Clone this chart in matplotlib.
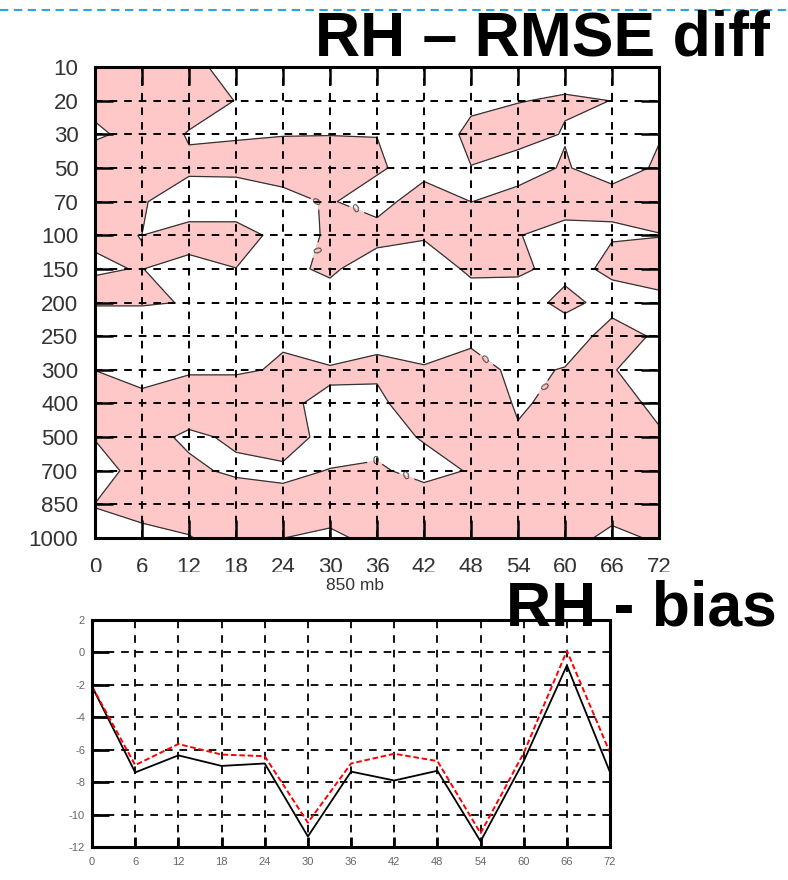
import numpy as np
import matplotlib
matplotlib.use("Agg")
import matplotlib.pyplot as plt
from matplotlib.lines import Line2D
from matplotlib.transforms import Bbox, TransformedBbox

plt.rcParams["font.family"] = ["Liberation Sans", "DejaVu Sans"]
plt.rcParams["lines.scale_dashes"] = False
plt.rcParams["axes.unicode_minus"] = False

# forecast lead time (h) and pressure levels (mb)
lead_hours = np.arange(0, 73, 6)
levels_mb = [10, 20, 30, 50, 70, 100, 150, 200, 250, 300, 400, 500, 700, 850, 1000]

# RH RMSE difference, one row per level (10 mb first), one column per lead time
rmse_diff = np.array([
    [ 1.0,  1.0,   1.0,  -1.4,  -1.0,  -1.0,  -1.0,  -1.0,  -1.0,  -1.0,  -0.25, -1.0,   -1.0],
    [ 1.0,  1.0,   1.0,  -0.05, -1.0,  -1.0,  -1.0,  -1.0,  -0.3,  -0.02,  0.06, -0.004, -1.0],
    [-0.6,  1.25, -0.15, -0.2,  -0.05, -0.03, -0.03, -1.0,   0.35,  0.25, -0.04, -1.0,   -0.05],
    [ 2.7,  1.0,   0.33,  0.9,   0.8,   0.8,   0.3,  -1.0,  -0.03, -0.3,   0.07, -0.42,   0.12],
    [ 1.0,  0.15, -1.0,  -2.4,  -0.6,   0.2,  -1.1,   1.5,  -0.01,  0.26,  1.2,   0.45,   1.0],
    [ 0.05,-0.005, 0.67,  1.6,  -1.2,   0.32,  1.2,   0.3,   1.0,   0.1,  -1.0,  -0.3,   -0.075],
    [-0.05, 0.02, -0.5,  -0.05, -0.8,   0.6,  -2.0,  -1.7,   0.5,   1.1,  -2.0,   1.2,    1.2],
    [ 0.2,  0.2,  -0.09, -1.0,  -1.0,  -1.6,  -1.0,  -1.0,  -1.35, -3.5,   2.0,  -2.5,   -0.7],
    [-1.8, -1.8,  -1.0,  -1.0,  -0.21, -1.0,  -0.6,  -1.7,  -1.4,  -1.0,  -4.2,   3.0,   -1.05],
    [-0.02,-1.0,  -0.3,  -0.3,   0.23,  0.15,  0.5,   0.3,   2.5,  -1.5,   0.4,   0.3,   -2.7],
    [ 1.0,  0.8,   1.7,   1.7,   0.136,-0.18, -0.7,   2.0,   2.0,  -0.3,   0.7,   1.8,   -1.0],
    [ 0.1,  1.0,  -0.5,   0.41,  0.4,  -0.3,  -0.5,   0.1,   1.0,   0.3,   1.0,   1.0,    0.54],
    [-0.9,  0.8,   0.55, -0.5,  -0.15,  0.023, 0.21, -0.46,  0.094, 1.0,   1.0,   1.0,    1.0],
    [ 0.03, 1.0,   1.0,   2.0,   0.25,  1.0,   1.0,   0.85,  1.0,   1.0,   1.0,   1.0,    1.0],
    [-0.27,-0.8,  -0.11,  1.0,   0.01, -0.43,  0.57,  1.0,   1.0,   1.0,   0.89, -0.59,   0.3],
])

# 850 mb RH bias, two runs
bias_black = [-2.1, -7.4, -6.35, -7.0, -6.85, -11.35, -7.35, -7.9, -7.3, -11.65, -6.7, -0.8, -7.4]
bias_red = [-2.1, -6.95, -5.65, -6.3, -6.4, -10.5, -6.85, -6.25, -6.7, -11.15, -6.2, 0.1, -6.2]

# where the "0" labels sit (lead hour, level index)
label_spots = [(28.5, 4.0), (33.3, 4.3), (28.3, 5.45), (50.0, 8.7),
               (57.4, 9.55), (35.7, 11.6), (39.6, 12.3)]

fig = plt.figure(figsize=(7.88, 8.80), dpi=100)

# blue dashed line across the top
fig.add_artist(Line2D([0, 1], [0.9886, 0.9886], transform=fig.transFigure,
                      color="#2aa6df", lw=1.5, linestyle=(0, (6, 4))))

# ---- top panel: RMSE diff contours ----
ax = fig.add_axes([0.1206, 0.3886, 0.7157, 0.5352])
lev_idx = np.arange(len(levels_mb))
ax.contourf(lead_hours, lev_idx, rmse_diff, levels=[0, 100], colors=["#ffc8c8"])
cs = ax.contour(lead_hours, lev_idx, rmse_diff, levels=[0], colors="#333333", linewidths=0.9)
ax.clabel(cs, fmt="%g", fontsize=8, manual=label_spots, inline=True)

ax.set_xlim(0, 72)
ax.set_ylim(len(levels_mb) - 1, 0)
ax.set_xticks(lead_hours)
ax.set_yticks(lev_idx, [str(v) for v in levels_mb])
ax.tick_params(direction="in", length=13, width=1.8, top=True, right=True,
               labelsize=16, labelcolor="#333333")
ax.tick_params(axis="y", pad=12)
ax.tick_params(axis="x", pad=14)
ax.grid(True, color="k", linestyle=(0, (5.5, 5)), linewidth=1.4)
ax.set_axisbelow(False)
for s in ax.spines.values():
    s.set_linewidth(2.2)

# the lower figure is pasted over the bottom of the hour labels
clip = TransformedBbox(Bbox([[0, 308 / 880], [1, 1]]), fig.transFigure)
for t in ax.get_xticklabels():
    t.set_clip_on(True)
    t.set_clip_box(clip)

fig.text(770 / 788, 1 - 55 / 880, "RH \u2013 RMSE diff", ha="right", va="baseline",
         fontsize=45, fontweight="bold")

# ---- bottom panel: 850 mb bias ----
fig.text(355 / 788, 1 - 585 / 880, "850 mb", ha="center", va="center",
         fontsize=12.5, color="#333333")

bx = fig.add_axes([0.1168, 0.0375, 0.6574, 0.258])
bx.plot(lead_hours, bias_black, color="k", lw=1.3)
bx.plot(lead_hours, bias_red, color="red", lw=1.4, linestyle=(0, (4, 2)))
bx.set_xlim(0, 72)
bx.set_ylim(-12, 2)
bx.set_xticks(lead_hours)
bx.set_yticks(np.arange(-12, 3, 2))
bx.tick_params(axis="y", direction="in", length=12, width=2, labelsize=8, pad=5,
               labelcolor="#666666")
bx.tick_params(axis="x", direction="in", length=7, width=2, labelsize=8, pad=7,
               labelcolor="#666666")
bx.grid(True, color="k", linestyle=(0, (5.5, 5)), linewidth=1.3)
for s in bx.spines.values():
    s.set_linewidth(2.2)

fig.text(777 / 788, 1 - 625 / 880, "RH - bias", ha="right", va="baseline",
         fontsize=45, fontweight="bold", zorder=10)

fig.savefig("out.png", dpi=100)
